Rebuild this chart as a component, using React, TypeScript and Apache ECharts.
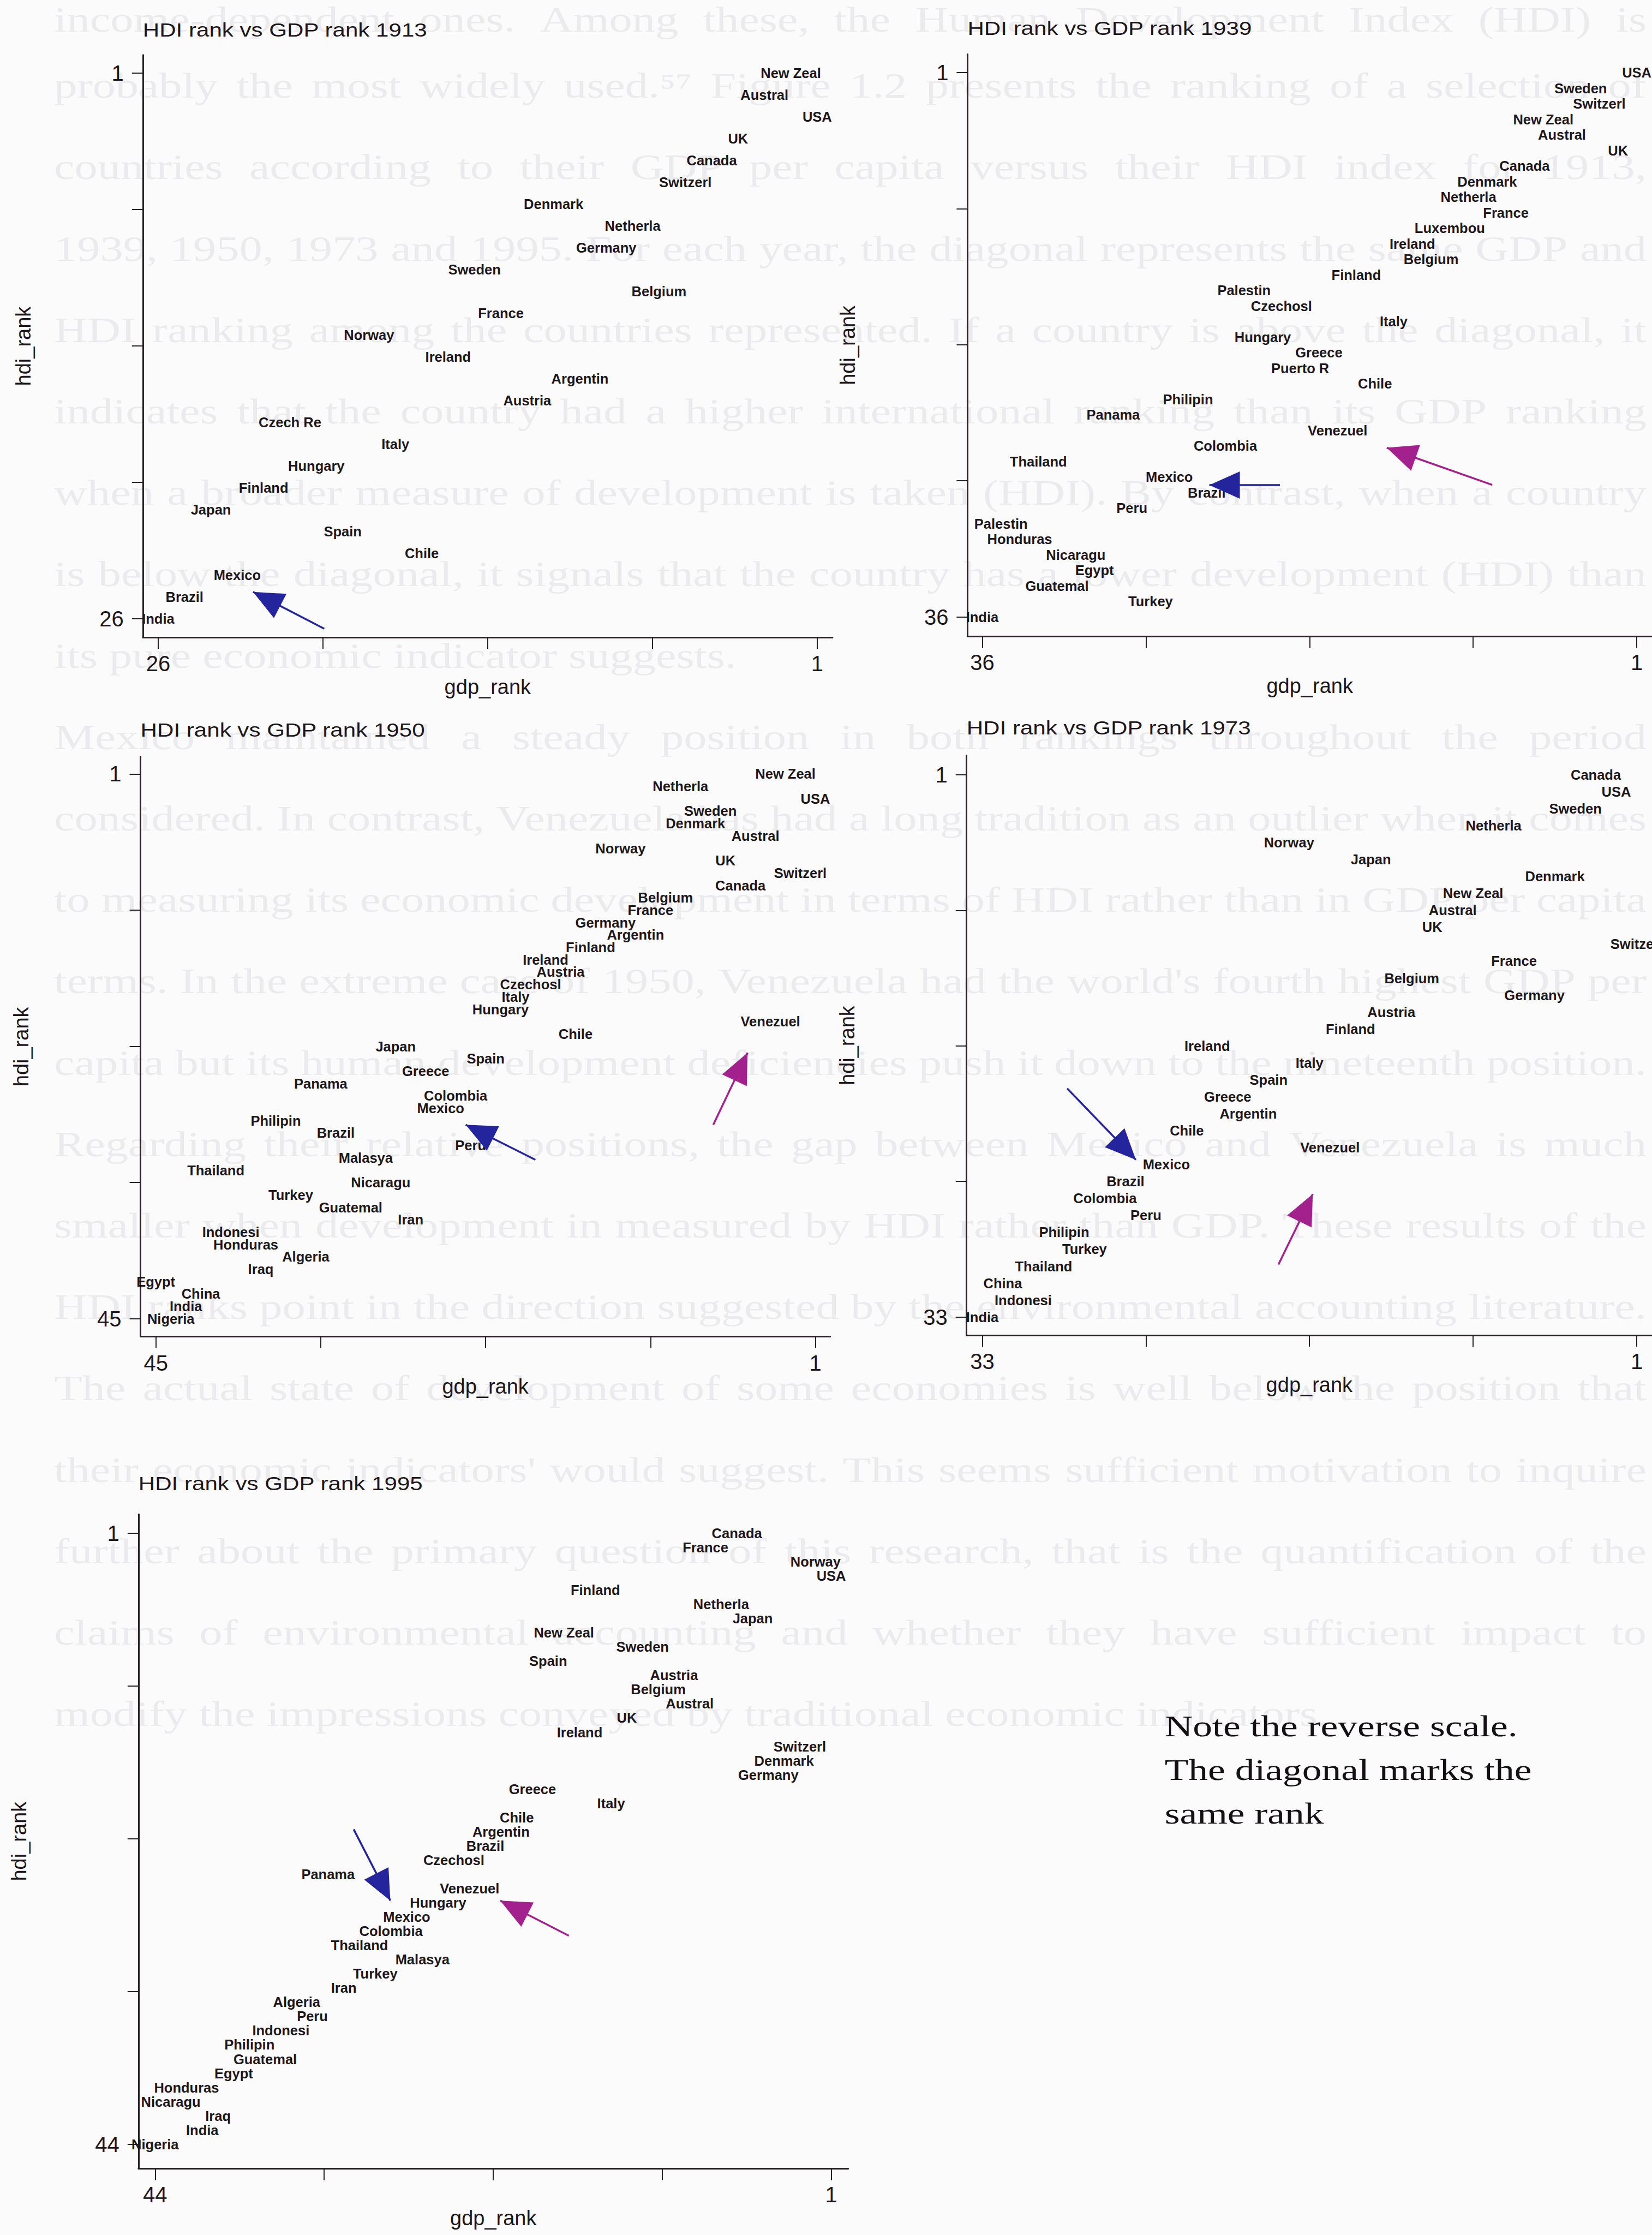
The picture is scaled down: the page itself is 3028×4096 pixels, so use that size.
import React, { useEffect, useRef } from 'react';
import * as echarts from 'echarts';

const W = 3028;
const H = 4096;

// ---------------- data (gdp_rank, hdi_rank) ----------------
const names1913 = ['New Zeal', 'Austral', 'USA', 'UK', 'Canada', 'Switzerl', 'Denmark', 'Netherla', 'Germany', 'Sweden', 'Belgium', 'France', 'Norway', 'Ireland', 'Argentin', 'Austria', 'Czech Re', 'Italy', 'Hungary', 'Finland', 'Japan', 'Spain', 'Chile', 'Mexico', 'Brazil', 'India'];
const gdp1913 = [2, 3, 1, 4, 5, 6, 11, 8, 9, 14, 7, 13, 18, 15, 10, 12, 21, 17, 20, 22, 24, 19, 16, 23, 25, 26];
const hdi1913 = [1, 2, 3, 4, 5, 6, 7, 8, 9, 10, 11, 12, 13, 14, 15, 16, 17, 18, 19, 20, 21, 22, 23, 24, 25, 26];

const names1939 = ['USA', 'Sweden', 'Switzerl', 'New Zeal', 'Austral', 'UK', 'Canada', 'Denmark', 'Netherla', 'France', 'Luxembou', 'Ireland', 'Belgium', 'Finland', 'Palestin', 'Czechosl', 'Italy', 'Hungary', 'Greece', 'Puerto R', 'Chile', 'Philipin', 'Panama', 'Venezuel', 'Colombia', 'Thailand', 'Mexico', 'Brazil', 'Peru', 'Palestin', 'Honduras', 'Nicaragu', 'Egypt', 'Guatemal', 'Turkey', 'India'];
const gdp1939 = [1, 4, 3, 6, 5, 2, 7, 9, 10, 8, 11, 13, 12, 16, 22, 20, 14, 21, 18, 19, 15, 25, 29, 17, 23, 33, 26, 24, 28, 35, 34, 31, 30, 32, 27, 36];
const hdi1939 = [1, 2, 3, 4, 5, 6, 7, 8, 9, 10, 11, 12, 13, 14, 15, 16, 17, 18, 19, 20, 21, 22, 23, 24, 25, 26, 27, 28, 29, 30, 31, 32, 33, 34, 35, 36];

const names1950 = ['New Zeal', 'Netherla', 'USA', 'Sweden', 'Denmark', 'Austral', 'Norway', 'UK', 'Switzerl', 'Canada', 'Belgium', 'France', 'Germany', 'Argentin', 'Finland', 'Ireland', 'Austria', 'Czechosl', 'Italy', 'Hungary', 'Venezuel', 'Chile', 'Japan', 'Spain', 'Greece', 'Panama', 'Colombia', 'Mexico', 'Philipin', 'Brazil', 'Peru', 'Malasya', 'Thailand', 'Nicaragu', 'Turkey', 'Guatemal', 'Iran', 'Indonesi', 'Honduras', 'Algeria', 'Iraq', 'Egypt', 'China', 'India', 'Nigeria'];
const gdp1950 = [3, 10, 1, 8, 9, 5, 14, 7, 2, 6, 11, 12, 15, 13, 16, 19, 18, 20, 21, 22, 4, 17, 29, 23, 27, 34, 25, 26, 37, 33, 24, 31, 41, 30, 36, 32, 28, 40, 39, 35, 38, 45, 42, 43, 44];
const hdi1950 = [1, 2, 3, 4, 5, 6, 7, 8, 9, 10, 11, 12, 13, 14, 15, 16, 17, 18, 19, 20, 21, 22, 23, 24, 25, 26, 27, 28, 29, 30, 31, 32, 33, 34, 35, 36, 37, 38, 39, 40, 41, 42, 43, 44, 45];

const names1973 = ['Canada', 'USA', 'Sweden', 'Netherla', 'Norway', 'Japan', 'Denmark', 'New Zeal', 'Austral', 'UK', 'Switzerl', 'France', 'Belgium', 'Germany', 'Austria', 'Finland', 'Ireland', 'Italy', 'Spain', 'Greece', 'Argentin', 'Chile', 'Venezuel', 'Mexico', 'Brazil', 'Colombia', 'Peru', 'Philipin', 'Turkey', 'Thailand', 'China', 'Indonesi', 'India'];
const gdp1973 = [3, 2, 4, 8, 18, 14, 5, 9, 10, 11, 1, 7, 12, 6, 13, 15, 22, 17, 19, 21, 20, 23, 16, 24, 26, 27, 25, 29, 28, 30, 32, 31, 33];
const hdi1973 = [1, 2, 3, 4, 5, 6, 7, 8, 9, 10, 11, 12, 13, 14, 15, 16, 17, 18, 19, 20, 21, 22, 23, 24, 25, 26, 27, 28, 29, 30, 31, 32, 33];

const names1995 = ['Canada', 'France', 'Norway', 'USA', 'Finland', 'Netherla', 'Japan', 'New Zeal', 'Sweden', 'Spain', 'Austria', 'Belgium', 'Austral', 'UK', 'Ireland', 'Switzerl', 'Denmark', 'Germany', 'Greece', 'Italy', 'Chile', 'Argentin', 'Brazil', 'Czechosl', 'Panama', 'Venezuel', 'Hungary', 'Mexico', 'Colombia', 'Thailand', 'Malasya', 'Turkey', 'Iran', 'Algeria', 'Peru', 'Indonesi', 'Philipin', 'Guatemal', 'Egypt', 'Honduras', 'Nicaragu', 'Iraq', 'India', 'Nigeria'];
const gdp1995 = [7, 9, 2, 1, 16, 8, 6, 18, 13, 19, 11, 12, 10, 14, 17, 3, 4, 5, 20, 15, 21, 22, 23, 25, 33, 24, 26, 28, 29, 31, 27, 30, 32, 35, 34, 36, 38, 37, 39, 42, 43, 40, 41, 44];
const hdi1995 = [1, 2, 3, 4, 5, 6, 7, 8, 9, 10, 11, 12, 13, 14, 15, 16, 17, 18, 19, 20, 21, 22, 23, 24, 25, 26, 27, 28, 29, 30, 31, 32, 33, 34, 35, 36, 37, 38, 39, 40, 41, 42, 43, 44];

// arrows: [gdp, hdi] of tail and head tip
const arrows1913 = [{ kind: 'blue', from: [19.7, 26.46], to: [22.4, 24.77] }];
const arrows1939 = [
  { kind: 'blue', from: [20.08, 27.52], to: [23.86, 27.52] },
  { kind: 'magenta', from: [8.73, 27.51], to: [14.37, 25.12] },
];
const arrows1950 = [
  { kind: 'blue', from: [19.68, 32.16], to: [24.33, 29.33] },
  { kind: 'magenta', from: [7.81, 29.33], to: [5.52, 23.51] },
];
const arrows1973 = [
  { kind: 'blue', from: [28.85, 19.51], to: [25.49, 23.72] },
  { kind: 'magenta', from: [18.52, 29.9], to: [16.84, 25.74] },
];
const arrows1995 = [
  { kind: 'blue', from: [31.37, 21.84], to: [29.04, 26.85] },
  { kind: 'magenta', from: [17.69, 29.32], to: [22.05, 26.85] },
];

const years = [1913, 1939, 1950, 1973, 1995];
const counts = [26, 36, 45, 33, 44];

const bgLines = [
  'income-dependent ones. Among these, the Human Development Index (HDI) is',
  'probably the most widely used.\u2075\u2077 Figure 1.2 presents the ranking of a selection of',
  'countries according to their GDP per capita versus their HDI index for 1913,',
  '1939, 1950, 1973 and 1995. For each year, the diagonal represents the same GDP and',
  'HDI ranking among the countries represented. If a country is above the diagonal, it',
  'indicates that the country had a higher international ranking than its GDP ranking',
  'when a broader measure of development is taken (HDI). By contrast, when a country',
  'is below the diagonal, it signals that the country has a lower development (HDI) than',
  'its pure economic indicator suggests.',
  'Mexico maintained a steady position in both rankings throughout the period',
  'considered. In contrast, Venezuela has had a long tradition as an outlier when it comes',
  'to measuring its economic development in terms of HDI rather than in GDP per capita',
  "terms. In the extreme case of 1950, Venezuela had the world's fourth highest GDP per",
  'capita but its human development deficiencies push it down to the nineteenth position.',
  'Regarding their relative positions, the gap between Mexico and Venezuela is much',
  'smaller when development in measured by HDI rather than GDP. These results of the',
  'HDI ranks point in the direction suggested by the environmental accounting literature.',
  'The actual state of development of some economies is well below the position that',
  "their economic indicators' would suggest. This seems sufficient motivation to inquire",
  'further about the primary question of this research, that is the quantification of the',
  'claims of environmental accounting and whether they have sufficient impact to',
  'modify the impressions conveyed by traditional economic indicators.',
];
const bgUnjustified = [8, 21];

const noteLines = ['Note the reverse scale.', 'The diagonal marks the', 'same rank'];

// ---------------- layout (px) ----------------
// box: [left, right, top, bottom]; xt: [px of n, px of 1]; yt: [px of 1, px of n]
const layout = [
  { box: [261.8, 1525.9, 100.8, 1168.3], xt: [289.9, 1497.8], yt: [134.2, 1133.9], titleY: 54.7 },
  { box: [1773.4, 3030.8, 99.5, 1166.4], xt: [1800.5, 3002.8], yt: [133.1, 1130.6], titleY: 51.5 },
  { box: [257.6, 1521.7, 1387.1, 2449.6], xt: [285.7, 1494.5], yt: [1418.4, 2416.8], titleY: 1337.8 },
  { box: [1771.7, 3029.0, 1384.9, 2447.3], xt: [1800.5, 3001.0], yt: [1419.8, 2413.7], titleY: 1333.3 },
  { box: [253.8, 1554.7, 2775.0, 3974.4], xt: [284.3, 1523.6], yt: [2809.9, 3929.8], titleY: 2719.0 },
];

const AXIS_COLOR = '#2a2126';
const TEXT_COLOR = '#1d171b';
const BLUE = '#24259c';
const MAGENTA = '#a2218c';
const SANS = '"Liberation Sans", Arial, Helvetica, sans-serif';
const SERIF = '"Liberation Serif", "Times New Roman", serif';
const HEAD_W = 50;
const HEAD_H = 56;

const datasets = [
  { names: names1913, gdp: gdp1913, hdi: hdi1913, arrows: arrows1913 },
  { names: names1939, gdp: gdp1939, hdi: hdi1939, arrows: arrows1939 },
  { names: names1950, gdp: gdp1950, hdi: hdi1950, arrows: arrows1950 },
  { names: names1973, gdp: gdp1973, hdi: hdi1973, arrows: arrows1973 },
  { names: names1995, gdp: gdp1995, hdi: hdi1995, arrows: arrows1995 },
];

function axisRange(n: number, pN: number, p1: number, eN: number, e1: number) {
  const u = Math.abs(pN - p1) / (n - 1);
  return { min: 1 - Math.abs(e1 - p1) / u, max: n + Math.abs(pN - eN) / u };
}

function buildBackgroundText(): any[] {
  const BG_FONT = 65;
  const BG_SCALE = 1.3;
  const BG_LEFT = 99;
  const BG_RIGHT = 3018;
  const BG_TOP = 8;
  const BG_STEP = 149.2;
  const canvas = document.createElement('canvas');
  const ctx = canvas.getContext('2d') as CanvasRenderingContext2D;
  ctx.font = `${BG_FONT}px "Liberation Serif"`;
  const spaceW = ctx.measureText(' ').width * BG_SCALE;
  const els: any[] = [];
  bgLines.forEach((line, i) => {
    const words = line.split(' ');
    const widths = words.map((w) => ctx.measureText(w).width * BG_SCALE);
    const total = widths.reduce((a, b) => a + b, 0);
    let gap = spaceW;
    if (bgUnjustified.indexOf(i) < 0 && words.length > 1) {
      gap = Math.max(spaceW * 0.5, (BG_RIGHT - BG_LEFT - total) / (words.length - 1));
    }
    let x = BG_LEFT;
    const y = i === 0 ? 36 : BG_TOP + i * BG_STEP;
    words.forEach((w, k) => {
      els.push({
        type: 'text',
        x,
        y,
        scaleX: BG_SCALE,
        z: -10,
        silent: true,
        style: {
          text: w,
          fontSize: BG_FONT,
          fontFamily: SERIF,
          fill: '#ebeaec',
          verticalAlign: 'middle',
          textVerticalAlign: 'middle',
        },
      });
      x += widths[k] + gap;
    });
  });
  return els;
}

function buildOption(): any {
  const grids: any[] = [];
  const xAxes: any[] = [];
  const yAxes: any[] = [];
  const series: any[] = [];
  const graphics: any[] = buildBackgroundText();

  layout.forEach((L, i) => {
    const n = counts[i];
    const [gl, gr, gt, gb] = L.box;
    const xr = axisRange(n, L.xt[0], L.xt[1], gl, gr);
    const yr = axisRange(n, L.yt[1], L.yt[0], gb, gt);
    const ticks = [0, 1, 2, 3, 4].map((k) => 1 + (k * (n - 1)) / 4);
    const tickLabels = [1, n];
    grids.push({ left: gl, top: gt, width: gr - gl, height: gb - gt, containLabel: false });
    const common = {
      gridIndex: i,
      type: 'value',
      inverse: true,
      nameLocation: 'middle',
      nameTextStyle: { fontSize: 38, color: TEXT_COLOR, fontFamily: SANS },
      axisLine: { show: true, onZero: false, lineStyle: { color: AXIS_COLOR, width: 3 } },
      splitLine: { show: false },
    };
    xAxes.push({
      ...common,
      position: 'bottom',
      min: xr.min,
      max: xr.max,
      name: 'gdp_rank',
      nameGap: 72,
      axisTick: { show: true, customValues: ticks, length: 21, lineStyle: { color: AXIS_COLOR, width: 2 } },
      axisLabel: { customValues: tickLabels, margin: 28, fontSize: 40, color: TEXT_COLOR, fontFamily: SANS },
    });
    yAxes.push({
      ...common,
      position: 'left',
      min: yr.min,
      max: yr.max,
      name: 'hdi_rank',
      nameGap: 200,
      nameRotate: 90,
      axisTick: { show: true, customValues: ticks, length: 20, lineStyle: { color: AXIS_COLOR, width: 2 } },
      axisLabel: { customValues: tickLabels, margin: 35, fontSize: 40, color: TEXT_COLOR, fontFamily: SANS },
    });

    const ds = datasets[i];
    series.push({
      type: 'scatter',
      xAxisIndex: i,
      yAxisIndex: i,
      symbolSize: 0,
      silent: true,
      itemStyle: { color: 'rgba(0,0,0,0)', opacity: 1 },
      label: {
        show: true,
        position: 'inside',
        formatter: '{b}',
        fontSize: 25.5,
        fontWeight: 'bold',
        fontFamily: SANS,
        color: TEXT_COLOR,
        opacity: 1,
      },
      emphasis: { disabled: true },
      data: ds.names.map((nm, k) => ({ name: nm, value: [ds.gdp[k], ds.hdi[k]] })),
      markLine: {
        silent: true,
        symbol: ['none', 'none'],
        label: { show: false },
        emphasis: { disabled: true },
        data: ds.arrows.map((a) => {
          const col = a.kind === 'blue' ? BLUE : MAGENTA;
          const ls = { color: col, width: 3.5, type: 'solid', opacity: 1 };
          return [
            { coord: a.from, lineStyle: ls },
            { coord: a.to, lineStyle: ls },
          ];
        }),
      },
    });

    graphics.push({
      type: 'text',
      x: gl,
      y: L.titleY,
      scaleX: 1.17,
      z: 10,
      silent: true,
      style: {
        text: `HDI rank vs GDP rank ${years[i]}`,
        fontSize: 36,
        fontFamily: SANS,
        fill: TEXT_COLOR,
        verticalAlign: 'middle',
        textVerticalAlign: 'middle',
      },
    });
  });

  const noteY = [3163, 3243, 3323];
  noteLines.forEach((t, k) => {
    graphics.push({
      type: 'text',
      x: 2134.7,
      y: noteY[k],
      scaleX: 1.3,
      z: 10,
      silent: true,
      style: {
        text: t,
        fontSize: 55,
        fontFamily: SERIF,
        fill: '#141014',
        verticalAlign: 'middle',
        textVerticalAlign: 'middle',
      },
    });
  });

  return {
    animation: false,
    backgroundColor: '#fcfbfc',
    grid: grids,
    xAxis: xAxes,
    yAxis: yAxes,
    series,
    graphic: { elements: graphics },
  };
}

// arrowheads: triangles placed through the grids' own scales, rotated along each arrow
function buildArrowHeads(chart: any): any[] {
  return datasets.map((ds, i) => ({
    type: 'scatter',
    xAxisIndex: i,
    yAxisIndex: i,
    symbol: 'triangle',
    symbolSize: [HEAD_W, HEAD_H],
    silent: true,
    z: 5,
    label: { show: false },
    emphasis: { disabled: true },
    data: ds.arrows.map((a) => {
      const p0 = chart.convertToPixel({ gridIndex: i }, a.from);
      const p1 = chart.convertToPixel({ gridIndex: i }, a.to);
      const dx = p1[0] - p0[0];
      const dy = p1[1] - p0[1];
      const len = Math.hypot(dx, dy) || 1;
      const c = [p1[0] - (dx / len) * (HEAD_H / 2), p1[1] - (dy / len) * (HEAD_H / 2)];
      const v = chart.convertFromPixel({ gridIndex: i }, c);
      return {
        value: v,
        symbolRotate: (Math.atan2(-dy, dx) * 180) / Math.PI - 90,
        itemStyle: { color: a.kind === 'blue' ? BLUE : MAGENTA, opacity: 1 },
      };
    }),
  }));
}

export default function App() {
  const ref = useRef<HTMLDivElement>(null);
  useEffect(() => {
    document.body.style.margin = '0';
    document.body.style.overflow = 'hidden';
    if (!ref.current) return;
    const chart = echarts.init(ref.current, null, { renderer: 'svg', width: W, height: H });
    const option = buildOption();
    chart.setOption(option);
    const heads = buildArrowHeads(chart);
    chart.setOption({ series: [...option.series, ...heads] });
    return () => chart.dispose();
  }, []);
  return (
    <div
      ref={ref}
      style={{ position: 'absolute', left: 0, top: 0, width: W, height: H, overflow: 'hidden' }}
    />
  );
}
